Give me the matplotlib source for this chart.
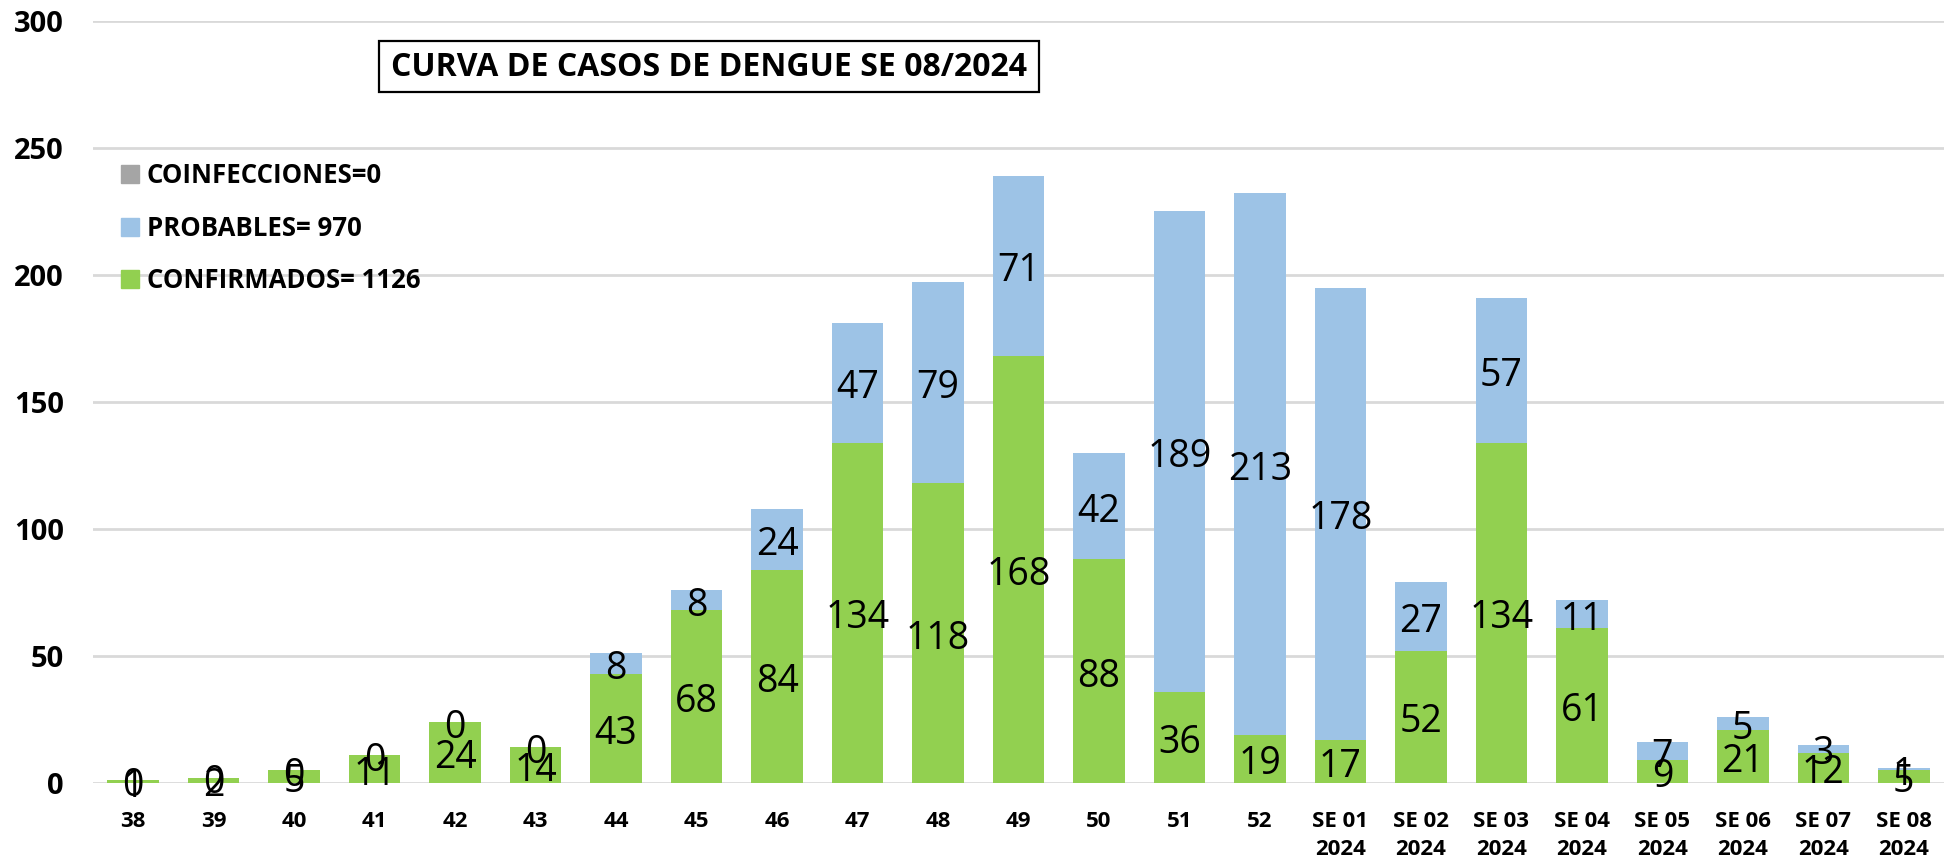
import matplotlib
matplotlib.use("Agg")
import matplotlib.pyplot as plt
from matplotlib.patches import Patch, Rectangle
import numpy as np

plt.rcParams["font.family"] = ["Open Sans", "DejaVu Sans"]

# ── datos ─────────────────────────────────────────────────────────────
semanas = ["38", "39", "40", "41", "42", "43", "44", "45", "46", "47", "48",
           "49", "50", "51", "52", "SE 01\n2024", "SE 02\n2024", "SE 03\n2024",
           "SE 04\n2024", "SE 05\n2024", "SE 06\n2024", "SE 07\n2024",
           "SE 08\n2024"]
confirmados = [1, 2, 5, 11, 24, 14, 43, 68, 84, 134, 118, 168, 88, 36, 19,
               17, 52, 134, 61, 9, 21, 12, 5]
probables = [0, 0, 0, 0, 0, 0, 8, 8, 24, 47, 79, 71, 42, 189, 213, 178, 27,
             57, 11, 7, 5, 3, 1]
coinfecciones = [0] * len(semanas)

leyenda = ["COINFECCIONES=0", "PROBABLES= 970", "CONFIRMADOS= 1126"]
titulo = "CURVA DE CASOS DE DENGUE SE 08/2024"
y_ticks = [0, 50, 100, 150, 200, 250, 300]

VERDE = "#92D050"
AZUL = "#9DC3E6"
GRIS = "#A5A5A5"

W, H = 1949, 864
fig = plt.figure(figsize=(W / 100, H / 100), dpi=100)
ax = fig.add_axes([93 / W, 1 - 783 / H, (1944 - 93) / W, (783 - 20.7) / H])

x = np.arange(len(semanas))
conf = np.array(confirmados)
prob = np.array(probables)
coin = np.array(coinfecciones)
ancho = 0.64

ax.bar(x, conf, width=ancho, color=VERDE, zorder=2)
ax.bar(x, prob, width=ancho, bottom=conf, color=AZUL, zorder=2)
ax.bar(x, coin, width=ancho, bottom=conf + prob, color=GRIS, zorder=2)

# etiquetas de valores (centro de cada segmento)
for xi, c, p in zip(x, conf, prob):
    ax.annotate(str(c), (xi, c / 2), xytext=(0, -4), textcoords="offset points",
                ha="center", va="center", fontsize=27, color="black", zorder=3)
    ax.annotate(str(p), (xi, c + p / 2), xytext=(0, -4),
                textcoords="offset points", ha="center", va="center",
                fontsize=27, color="black", zorder=3)

ax.set_xlim(-0.5, len(semanas) - 0.5)
ax.set_ylim(0, 300)
ax.set_yticks(y_ticks)
ax.set_yticklabels([str(v) for v in y_ticks], fontsize=21, fontweight="bold")
ax.set_xticks(x)
ax.set_xticklabels(semanas, fontsize=16, fontweight="bold", linespacing=1.45)
ax.tick_params(axis="both", length=0)
ax.tick_params(axis="y", pad=21)
ax.tick_params(axis="x", pad=20)
for s in ax.spines.values():
    s.set_visible(False)
ax.yaxis.grid(True, color="#D9D9D9", linewidth=2, zorder=0)
ax.set_axisbelow(True)

# título con recuadro
fig.patches.append(Rectangle((379 / W, 1 - 92 / H), 660 / W, 51 / H,
                             transform=fig.transFigure, fill=False,
                             edgecolor="black", linewidth=1.6))
fig.text(709 / W, 1 - 67 / H, titulo, ha="center", va="center",
         fontsize=23, fontweight="bold")

# leyenda
handles = [Patch(color=GRIS), Patch(color=AZUL), Patch(color=VERDE)]
fig.legend(handles, leyenda, loc="upper left",
           bbox_to_anchor=(121 / W, 1 - 162 / H), frameon=False,
           prop={"size": 18.5, "weight": "bold"}, handlelength=0.7,
           handleheight=0.7, handletextpad=0.3, labelspacing=1.0,
           borderpad=0, borderaxespad=0)

fig.savefig("out.png", dpi=100)
